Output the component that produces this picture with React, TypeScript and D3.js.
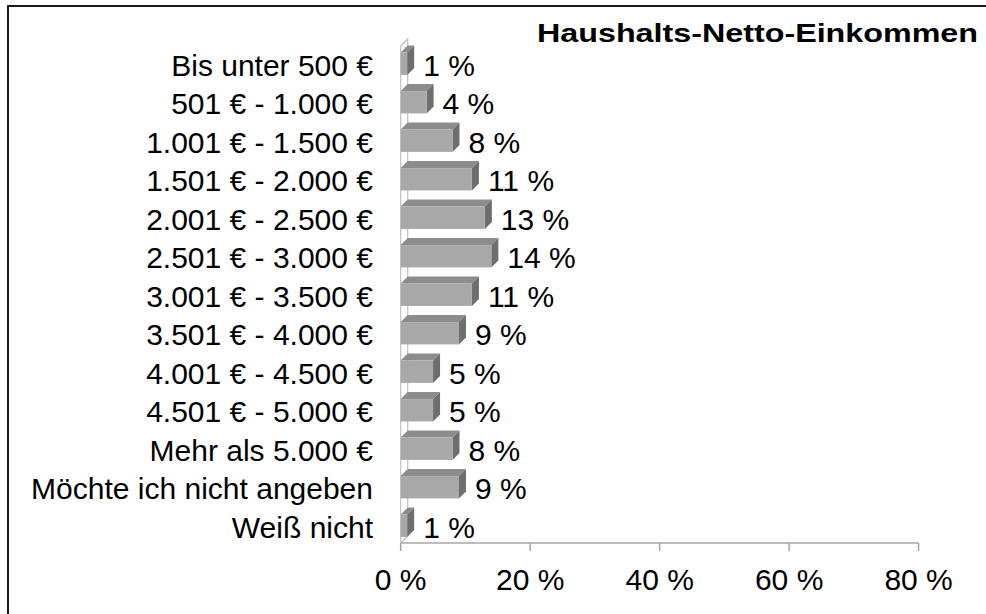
import React from "react";
import * as d3 from "d3";

const categories = [
  "Bis unter 500 €",
  "501 € - 1.000 €",
  "1.001 € - 1.500 €",
  "1.501 € - 2.000 €",
  "2.001 € - 2.500 €",
  "2.501 € - 3.000 €",
  "3.001 € - 3.500 €",
  "3.501 € - 4.000 €",
  "4.001 € - 4.500 €",
  "4.501 € - 5.000 €",
  "Mehr als 5.000 €",
  "Möchte ich nicht angeben",
  "Weiß nicht",
];
const values = [1, 4, 8, 11, 13, 14, 11, 9, 5, 5, 8, 9, 1];
const ticks = [0, 20, 40, 60, 80];
const title = "Haushalts-Netto-Einkommen";

const W = 986;
const H = 614;
const font = "'Liberation Sans', Arial, sans-serif";

const App = () => {
  const x = d3.scaleLinear().domain([0, 80]).range([400.7, 918.6]);
  const y = d3
    .scaleBand<string>()
    .domain(categories)
    .range([44.5, 545])
    .paddingInner(0.42)
    .paddingOuter(0.21);

  const dx = 7;
  const dy = 7;
  const x0 = x(0);
  const floorY = 543;
  const wallTop = 46;

  return (
    <svg width={W} height={H} style={{ position: "absolute", left: 0, top: 0 }} fontFamily={font}>
      <rect x={8} y={6} width={990} height={620} fill="white" stroke="black" strokeWidth={1.8} />

      {/* back wall */}
      <polygon
        points={`${x0},${wallTop} ${x0 + dx},${wallTop - dy} ${x0 + dx},${floorY - dy} ${x0},${floorY}`}
        fill="white"
        stroke="#c0c0c0"
        strokeWidth={1.2}
      />

      {/* axis ticks */}
      {ticks.map((t) => (
        <g key={t}>
          <line x1={x(t)} x2={x(t)} y1={floorY} y2={floorY + 8} stroke="#a6a6a6" strokeWidth={1.5} />
          <text x={x(t)} y={590} textAnchor="middle" fontSize={30} fill="#000">
            {t} %
          </text>
        </g>
      ))}
      <line x1={x0} x2={x(80)} y1={floorY} y2={floorY} stroke="#a6a6a6" strokeWidth={1.5} />

      {/* bars */}
      {categories.map((c, i) => {
        const by = y(c) as number;
        const bh = y.bandwidth();
        const xe = x(values[i]);
        const cy = by + bh / 2;
        return (
          <g key={c}>
            <polygon
              points={`${x0},${by} ${x0 + dx},${by - dy} ${xe + dx},${by - dy} ${xe},${by}`}
              fill="#8c8c8c"
            />
            <polygon
              points={`${xe},${by} ${xe + dx},${by - dy} ${xe + dx},${by + bh - dy} ${xe},${by + bh}`}
              fill="#6e6e6e"
            />
            <rect x={x0} y={by} width={xe - x0} height={bh} fill="#a8a8a8" />
            <text x={xe + dx + 9} y={cy + 12} fontSize={30} fill="#000">
              {values[i]} %
            </text>
            <text x={373} y={cy + 12} textAnchor="end" fontSize={30} fill="#000">
              {c}
            </text>
          </g>
        );
      })}

      <text
        x={537}
        y={42}
        fontSize={25.5}
        fontWeight="bold"
        textLength={441}
        lengthAdjust="spacingAndGlyphs"
        fill="#000"
      >
        {title}
      </text>
    </svg>
  );
};

export default App;
